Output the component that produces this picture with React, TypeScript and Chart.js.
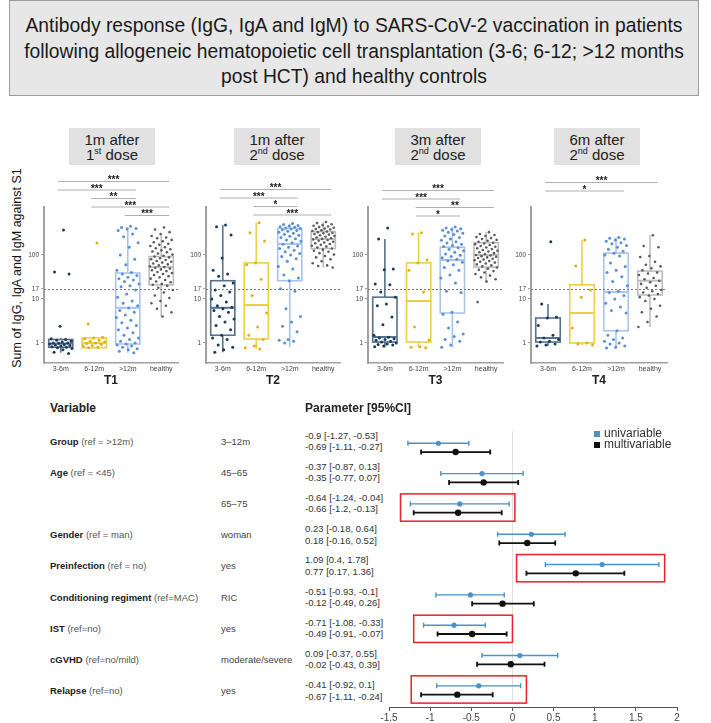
import React, { useEffect, useRef } from 'react';
import { Chart, registerables } from 'chart.js';
Chart.register(...registerables);

// ---------- DATA ----------
const titleLines = [
  'Antibody response (IgG, IgA and IgM) to SARS-CoV-2 vaccination in patients',
  'following allogeneic hematopoietic cell transplantation (3-6; 6-12; >12 months',
  'post HCT) and healthy controls',
];
const groups = ['3-6m', '6-12m', '>12m', 'healthy'];
const timepoints = ['T1', 'T2', 'T3', 'T4'];
const headerMain = ['1m after', '1m after', '3m after', '6m after'];
const headerDose = ['1', '2', '2', '2'];
const headerSup = ['st', 'nd', 'nd', 'nd'];
const yTicks = [1, 10, 17, 100];
const cutoff = 17;
const yTitle = 'Sum of IgG, IgA and IgM against S1';

// box stats: [lower whisker, q1, median, q3, upper whisker]
const boxT1 = [[0.6, 0.8, 0.97, 1.2, 1.3], [0.75, 0.78, 1.0, 1.3, 1.35], [0.6, 0.95, 6.3, 39, 430], [3.9, 21, 53, 92, 300]];
const boxT2 = [[0.62, 1.5, 6.3, 26, 480], [0.73, 1.23, 7.3, 66, 540], [0.8, 26, 178, 400, 520], [52, 140, 230, 340, 560]];
const boxT3 = [[0.8, 1.05, 1.37, 11, 230], [0.78, 1.05, 9, 66, 320], [0.78, 4.8, 77, 150, 430], [23, 53, 100, 190, 330]];
const boxT4 = [[0.85, 1.05, 1.3, 3.7, 7.7], [0.9, 1.0, 4.8, 21, 220], [0.77, 1.9, 14.5, 110, 250], [2.3, 12.3, 26, 43, 280]];

const t1g1 = [370, 41, 37, 2.4, 1.25, 1.2, 1.15, 1.1, 1.05, 1.0, 1.0, 0.98, 0.95, 0.93, 0.9, 0.88, 0.85, 0.82, 0.8, 0.78, 0.75, 0.7, 0.62, 0.58];
const t1g2 = [187, 2.7, 1.35, 1.3, 1.25, 1.15, 1.1, 1.05, 1.0, 0.97, 0.92, 0.88, 0.85, 0.8, 0.78];
const t1g3 = [450, 420, 400, 390, 360, 300, 260, 190, 150, 100, 80, 60, 45, 40, 37, 34, 31, 29, 27, 25, 22, 20, 19, 16, 13, 11, 9, 8, 7, 6.2, 5.5, 5, 4.3, 3.8, 3.3, 2.9, 2.5, 2.2, 2.0, 1.7, 1.5, 1.3, 1.2, 1.1, 1.0, 0.95, 0.9, 0.85, 0.8, 0.74, 0.7, 0.65, 0.6];
const t1g4 = [420, 380, 330, 300, 270, 250, 240, 220, 205, 195, 180, 170, 160, 150, 142, 135, 128, 120, 115, 108, 102, 96, 92, 88, 84, 80, 77, 73, 70, 67, 64, 61, 58, 55, 53, 51, 49, 47, 45, 43, 41, 39, 37, 35, 33, 31, 29, 27, 25, 24, 22, 21, 20, 18, 16, 14, 12, 10.5, 9, 8, 7, 6, 5, 4];

const t2g1 = [480, 437, 285, 85, 45, 37, 33, 23, 20, 16, 14.5, 12, 10, 8.5, 7, 6.5, 6, 5.5, 5, 4, 3.5, 3, 2.5, 2, 1.5, 1.3, 1.2, 0.9, 0.8, 0.7, 0.62];
const t2g2 = [540, 320, 208, 66, 60, 28, 12, 4.8, 2.3, 1.5, 1.2, 0.85, 0.78, 0.73];
const t2g3 = [520, 490, 470, 455, 440, 425, 410, 400, 390, 375, 360, 345, 330, 310, 295, 280, 265, 250, 235, 220, 205, 190, 175, 160, 150, 140, 128, 118, 108, 100, 92, 82, 72, 55, 48, 35, 30, 26, 17, 15, 6, 4, 3, 2.4, 1.8, 1.2, 1.15, 1.1, 1.0];
const t2g4 = [560, 530, 500, 480, 460, 445, 430, 415, 400, 390, 380, 365, 350, 340, 330, 320, 310, 300, 290, 280, 270, 260, 250, 240, 232, 225, 218, 210, 200, 192, 185, 178, 170, 162, 155, 148, 140, 132, 125, 118, 110, 102, 95, 88, 80, 72, 65, 58, 56, 52];

const t3g1 = [410, 230, 48, 46, 22, 21, 14.5, 11, 7.7, 7, 3.9, 2.6, 1.5, 1.35, 1.3, 1.25, 1.2, 1.15, 1.1, 1.05, 1.0, 0.95, 0.92, 0.9, 0.85, 0.82];
const t3g2 = [320, 300, 77, 66, 45, 14.5, 2.3, 1.17, 0.82, 0.8, 0.78];
const t3g3 = [430, 410, 395, 380, 365, 350, 330, 310, 290, 270, 250, 232, 215, 200, 188, 176, 165, 155, 145, 135, 125, 115, 105, 98, 92, 86, 80, 74, 68, 60, 52, 45, 35, 30, 23, 15, 14, 5, 4.5, 3, 2.2, 1.6, 1.4, 1.2, 1.1, 0.9, 0.8];
const t3g4 = [330, 300, 285, 270, 255, 242, 230, 220, 210, 200, 190, 182, 175, 168, 160, 154, 148, 142, 136, 130, 125, 120, 115, 110, 105, 100, 97, 94, 91, 88, 85, 82, 79, 76, 73, 70, 67, 64, 61, 58, 55, 52, 49, 46, 43, 40, 37, 34, 31, 28, 25, 8.5];

const t4g1 = [200, 7.7, 3.9, 3.7, 2.5, 1.5, 1.3, 1.2, 1.1, 1.05, 0.95, 0.9, 0.85];
const t4g2 = [220, 56, 16, 11, 2.2, 1.0, 0.95, 0.9];
const t4g3 = [250, 240, 230, 220, 205, 190, 180, 165, 150, 135, 122, 110, 100, 95, 66, 55, 45, 40, 32, 25, 20, 15, 14, 12, 10, 8, 6.6, 5.5, 4.8, 1.9, 1.5, 1.3, 1.2, 1.1, 1.0, 0.95, 0.85, 0.8, 0.77];
const t4g4 = [280, 160, 150, 95, 90, 70, 60, 55, 50, 45, 40, 38, 35, 30, 28, 26, 24, 22, 20, 18, 16, 15, 14, 13, 12, 11, 10, 9, 7, 6, 5, 4, 3, 2.3];

// significance brackets: [from group, to group, stars]
const sigT1 = [[0, 3, '***'], [0, 2, '***'], [1, 2, '**'], [1, 3, '***'], [2, 3, '***']];
const sigT2 = [[0, 3, '***'], [0, 2, '***'], [1, 2, '*'], [1, 3, '***']];
const sigT3 = [[0, 3, '***'], [0, 2, '***'], [1, 3, '**'], [1, 2, '*']];
const sigT4 = [[0, 3, '***'], [0, 2, '*']];

// forest plot
const variables = ['Group', 'Age', '', 'Gender', 'Preinfection', 'Conditioning regiment', 'IST', 'cGVHD', 'Relapse'];
const refs = ['(ref = >12m)', '(ref = <45)', '', '(ref = man)', '(ref = no)', '(ref=MAC)', '(ref=no)', '(ref=no/mild)', '(ref=no)'];
const levels = ['3–12m', '45–65', '65–75', 'woman', 'yes', 'RIC', 'yes', 'moderate/severe', 'yes'];
const uniEst = [-0.9, -0.37, -0.64, 0.23, 1.09, -0.51, -0.71, 0.09, -0.41];
const uniLo = [-1.27, -0.87, -1.24, -0.18, 0.4, -0.93, -1.08, -0.37, -0.92];
const uniHi = [-0.53, 0.13, -0.04, 0.64, 1.78, -0.1, -0.33, 0.55, 0.1];
const multiEst = [-0.69, -0.35, -0.66, 0.18, 0.77, -0.12, -0.49, -0.02, -0.67];
const multiLo = [-1.11, -0.77, -1.2, -0.16, 0.17, -0.49, -0.91, -0.43, -1.11];
const multiHi = [-0.27, 0.07, -0.13, 0.52, 1.36, 0.26, -0.07, 0.39, -0.24];
const highlightRows = [2, 4, 6, 8];
const legendLabels = ['univariable', 'multivariable'];

// ---------- STYLE / LAYOUT ----------
const pointColors = ['#1b3a5c', '#e2b11a', '#5b8fd6', '#5a5a5a'];
const boxColors = ['#56718e', '#edce4a', '#a9c4e9', '#bdbdbd'];
const uniColor = '#4a92c8';
const multiColor = '#111111';
const FONT = 'Arial, "Liberation Sans", sans-serif';

const panels = [
  { box: boxT1, pts: [t1g1, t1g2, t1g3, t1g4], sig: sigT1, axisX: 44, plotW: 134, sigTop: 181 },
  { box: boxT2, pts: [t2g1, t2g2, t2g3, t2g4], sig: sigT2, axisX: 206, plotW: 134, sigTop: 189 },
  { box: boxT3, pts: [t3g1, t3g2, t3g3, t3g4], sig: sigT3, axisX: 368, plotW: 135, sigTop: 190 },
  { box: boxT4, pts: [t4g1, t4g2, t4g3, t4g4], sig: sigT4, axisX: 531, plotW: 136, sigTop: 182 },
];
const headerLeft = [69, 234, 395, 554];
const PANEL_TOP = 170;
const PANEL_H = 230;
const Y_AXIS_W = 30;
const PAD_TOP = 37;
const PAD_RIGHT = 8;

const jitter = (i: number) => ((((i + 1) * 0.6180339) % 1) - 0.5) * 0.7;

function makeBoxPlugin(p: any) {
  return {
    id: 'boxes',
    beforeDatasetsDraw(chart: any) {
      const { ctx, scales, chartArea: a } = chart;
      const x = scales.x, y = scales.y;
      ctx.save();
      p.box.forEach((st: number[], i: number) => {
        const [lo, q1, med, q3, hi] = st;
        const xl = x.getPixelForValue(i - 0.36);
        const xr = x.getPixelForValue(i + 0.36);
        const xc = x.getPixelForValue(i);
        ctx.strokeStyle = boxColors[i];
        ctx.lineWidth = 1.6;
        const y1 = y.getPixelForValue(q1), y3 = y.getPixelForValue(q3);
        ctx.strokeRect(xl, y3, xr - xl, y1 - y3);
        ctx.beginPath();
        ctx.moveTo(xc, y3); ctx.lineTo(xc, y.getPixelForValue(hi));
        ctx.moveTo(xc, y1); ctx.lineTo(xc, y.getPixelForValue(lo));
        ctx.stroke();
        ctx.lineWidth = 2;
        ctx.beginPath();
        const ym = y.getPixelForValue(med);
        ctx.moveTo(xl, ym); ctx.lineTo(xr, ym);
        ctx.stroke();
      });
      ctx.strokeStyle = '#777';
      ctx.lineWidth = 1;
      ctx.setLineDash([2, 2]);
      const yc = Math.round(y.getPixelForValue(cutoff)) + 0.5;
      ctx.beginPath();
      ctx.moveTo(a.left, yc); ctx.lineTo(a.right, yc);
      ctx.stroke();
      ctx.restore();
    },
    afterDraw(chart: any) {
      const { ctx, scales } = chart;
      const x = scales.x;
      ctx.save();
      p.sig.forEach((s: any[], k: number) => {
        const ly = p.sigTop - PANEL_TOP + k * 8.5;
        const x1 = x.getPixelForValue(s[0]) - 3;
        const x2 = x.getPixelForValue(s[1]) + 8;
        ctx.strokeStyle = '#b0b0b0';
        ctx.lineWidth = 1.2;
        ctx.beginPath();
        ctx.moveTo(x1, ly + 0.5); ctx.lineTo(x2, ly + 0.5);
        ctx.stroke();
        ctx.fillStyle = '#222';
        ctx.font = `bold 10px ${FONT}`;
        ctx.textAlign = 'center';
        ctx.textBaseline = 'alphabetic';
        ctx.fillText(s[2], (x1 + x2) / 2, ly + 2);
      });
      ctx.restore();
    },
  };
}

function BoxPanel({ idx }: { idx: number }) {
  const ref = useRef<HTMLCanvasElement>(null);
  const p = panels[idx];
  const w = Y_AXIS_W + p.plotW + PAD_RIGHT;
  useEffect(() => {
    const datasets = p.pts.map((arr: number[], g: number) => ({
      label: groups[g],
      data: arr.map((v, i) => ({ x: g + jitter(i), y: v })),
      backgroundColor: pointColors[g],
      borderWidth: 0,
      pointRadius: g === 3 ? 1.3 : 1.5,
    }));
    const chart = new Chart(ref.current as HTMLCanvasElement, {
      type: 'scatter',
      data: { datasets },
      options: {
        animation: false,
        responsive: false,
        events: [],
        layout: { padding: { top: PAD_TOP, right: PAD_RIGHT, left: 0, bottom: 0 } },
        plugins: { legend: { display: false }, tooltip: { enabled: false } },
        scales: {
          x: {
            type: 'linear',
            min: -0.5,
            max: 3.5,
            afterBuildTicks: (s: any) => { s.ticks = groups.map((_, i) => ({ value: i })); },
            afterFit: (s: any) => { s.height = 37; },
            ticks: { callback: (v: any) => groups[v], font: { size: 7, family: FONT }, color: '#444', padding: 2, maxRotation: 0, autoSkip: false },
            grid: { display: false, drawTicks: false },
            border: { color: '#a0a0a0', width: 1.5 },
            title: { display: true, text: timepoints[idx], font: { size: 12, weight: 'bold', family: FONT }, color: '#222', padding: { top: 0, bottom: 12 } },
          },
          y: {
            type: 'logarithmic',
            min: 0.351,
            max: 1230,
            afterBuildTicks: (s: any) => { s.ticks = yTicks.map((v) => ({ value: v })); },
            afterFit: (s: any) => { s.width = Y_AXIS_W; },
            ticks: { callback: (v: any) => String(v), font: { size: 6.5, family: FONT }, color: '#444', padding: 2 },
            grid: { drawOnChartArea: false, tickLength: 3, color: '#a0a0a0' },
            border: { color: '#a0a0a0', width: 2 },
          },
        },
      },
      plugins: [makeBoxPlugin(p)],
    } as any);
    return () => chart.destroy();
  }, []);
  return (
    <canvas
      ref={ref}
      width={w}
      height={PANEL_H}
      style={{ position: 'absolute', left: p.axisX - Y_AXIS_W, top: PANEL_TOP, width: w, height: PANEL_H }}
    />
  );
}

const forestPlugin = {
  id: 'forest',
  beforeDatasetsDraw(chart: any) {
    const { ctx, scales, chartArea: a } = chart;
    const x = scales.x, y = scales.y;
    ctx.save();
    const x0 = Math.round(x.getPixelForValue(0)) + 0.5;
    ctx.strokeStyle = '#e0e0e0';
    ctx.lineWidth = 1;
    ctx.beginPath(); ctx.moveTo(x0, a.top); ctx.lineTo(x0, a.bottom - 6); ctx.stroke();
    const bar = (lo: number, hi: number, yv: number, color: string, lw: number) => {
      const py = y.getPixelForValue(yv);
      const p1 = x.getPixelForValue(lo), p2 = x.getPixelForValue(hi);
      ctx.strokeStyle = color;
      ctx.lineWidth = lw;
      ctx.beginPath();
      ctx.moveTo(p1, py); ctx.lineTo(p2, py);
      ctx.moveTo(p1, py - 2.5); ctx.lineTo(p1, py + 2.5);
      ctx.moveTo(p2, py - 2.5); ctx.lineTo(p2, py + 2.5);
      ctx.stroke();
    };
    uniEst.forEach((_, i) => {
      bar(uniLo[i], uniHi[i], i - 0.14, uniColor, 1.4);
      bar(multiLo[i], multiHi[i], i + 0.15, multiColor, 1.8);
    });
    ctx.restore();
  },
  afterDatasetsDraw(chart: any) {
    const { ctx, scales } = chart;
    const x = scales.x, y = scales.y;
    ctx.save();
    ctx.strokeStyle = '#e8202a';
    ctx.lineWidth = 1.5;
    highlightRows.forEach((r) => {
      const lo = Math.min(uniLo[r], multiLo[r]) - 0.12;
      const hi = Math.max(uniHi[r], multiHi[r]) + 0.07;
      const x1 = x.getPixelForValue(lo), x2 = x.getPixelForValue(hi);
      const y1 = y.getPixelForValue(r - 0.47), y2 = y.getPixelForValue(r + 0.43);
      ctx.strokeRect(x1, y1, x2 - x1, y2 - y1);
    });
    ctx.restore();
  },
};

function Forest() {
  const ref = useRef<HTMLCanvasElement>(null);
  useEffect(() => {
    const chart = new Chart(ref.current as HTMLCanvasElement, {
      type: 'scatter',
      data: {
        datasets: [
          { label: legendLabels[0], data: uniEst.map((v, i) => ({ x: v, y: i - 0.14 })), backgroundColor: uniColor, borderWidth: 0, pointRadius: 2.6 },
          { label: legendLabels[1], data: multiEst.map((v, i) => ({ x: v, y: i + 0.15 })), backgroundColor: multiColor, borderWidth: 0, pointRadius: 3.2 },
        ],
      },
      options: {
        animation: false,
        responsive: false,
        events: [],
        layout: { padding: { left: 29, right: 23, top: 8, bottom: 0 } },
        plugins: { legend: { display: false }, tooltip: { enabled: false } },
        scales: {
          x: {
            type: 'linear',
            min: -1.5,
            max: 2,
            afterFit: (s: any) => { s.height = 16; },
            ticks: { stepSize: 0.5, font: { size: 10, family: FONT }, color: '#444', padding: 1, callback: (v: any) => String(Math.round(v * 10) / 10) },
            grid: { drawOnChartArea: false, tickLength: 4, color: '#555' },
            border: { color: '#555', width: 1 },
          },
          y: { type: 'linear', display: false, min: -0.545, max: 8.558, reverse: true },
        },
      },
      plugins: [forestPlugin],
    } as any);
    return () => chart.destroy();
  }, []);
  return <canvas ref={ref} width={340} height={300} style={{ position: 'absolute', left: 360, top: 423, width: 340, height: 300 }} />;
}

const rowY = (i: number) => 440.5 + 31.2 * i;

export default function App() {
  return (
    <div style={{ position: 'absolute', left: 0, top: 0, width: 711, height: 723, background: '#fff', fontFamily: FONT, color: '#222', overflow: 'hidden' }}>
      {/* title */}
      <div style={{ position: 'absolute', left: 9, top: 0, width: 690, height: 96, boxSizing: 'border-box', background: '#e7e7e7', border: '1px solid #9c9c9c', paddingTop: 12, textAlign: 'center', fontSize: 19.3, lineHeight: '25.5px', color: '#1a1a1a' }}>
        {titleLines.map((t, i) => <div key={i} style={{ whiteSpace: 'nowrap' }}>{t}</div>)}
      </div>
      {/* panel headers */}
      {headerLeft.map((l, i) => (
        <div key={i} style={{ position: 'absolute', left: l, top: 128, width: 86, height: 37, boxSizing: 'border-box', background: '#e1e1e1', textAlign: 'center', fontSize: 15, lineHeight: '15px', paddingTop: 3.5, color: '#222' }}>
          <div>{headerMain[i]}</div>
          <div>{headerDose[i]}<sup style={{ fontSize: 9, lineHeight: 0, verticalAlign: 'super' }}>{headerSup[i]}</sup> dose</div>
        </div>
      ))}
      {/* y axis title */}
      <div style={{ position: 'absolute', left: 17 - 115, top: 268 - 8, width: 230, height: 16, lineHeight: '16px', fontSize: 12.5, textAlign: 'center', transform: 'rotate(-90deg)', whiteSpace: 'nowrap', color: '#111' }}>{yTitle}</div>
      {panels.map((_, i) => <BoxPanel key={i} idx={i} />)}

      {/* forest table */}
      <div style={{ position: 'absolute', left: 50, top: 400, fontSize: 12, fontWeight: 'bold', lineHeight: '16px' }}>Variable</div>
      <div style={{ position: 'absolute', left: 305, top: 400, fontSize: 12, fontWeight: 'bold', lineHeight: '16px' }}>Parameter [95%CI]</div>
      {variables.map((v, i) => (
        <React.Fragment key={i}>
          <div style={{ position: 'absolute', left: 50, top: rowY(i) - 5, fontSize: 9.5, lineHeight: '12px', whiteSpace: 'nowrap' }}>
            <b style={{ color: '#222' }}>{v}</b>{refs[i] ? <span style={{ color: '#555' }}> {refs[i]}</span> : null}
          </div>
          <div style={{ position: 'absolute', left: 221, top: rowY(i) - 5, fontSize: 9.5, lineHeight: '12px', color: '#444', whiteSpace: 'nowrap' }}>{levels[i]}</div>
          <div style={{ position: 'absolute', left: 305, top: rowY(i) - 11, fontSize: 9.5, lineHeight: '11.5px', color: '#333', whiteSpace: 'nowrap' }}>
            <div>{`${uniEst[i]} [${uniLo[i]}, ${uniHi[i]}]`}</div>
            <div>{`${multiEst[i]} [${multiLo[i]}, ${multiHi[i]}]`}</div>
          </div>
        </React.Fragment>
      ))}
      {/* legend */}
      {legendLabels.map((t, i) => (
        <React.Fragment key={t}>
          <div style={{ position: 'absolute', left: 594, top: 431 + i * 10.5, width: 6, height: 6, background: i === 0 ? uniColor : multiColor }} />
          <div style={{ position: 'absolute', left: 604, top: 427 + i * 10.5, fontSize: 12, lineHeight: '12px', color: '#333' }}>{t}</div>
        </React.Fragment>
      ))}
      <Forest />
    </div>
  );
}
